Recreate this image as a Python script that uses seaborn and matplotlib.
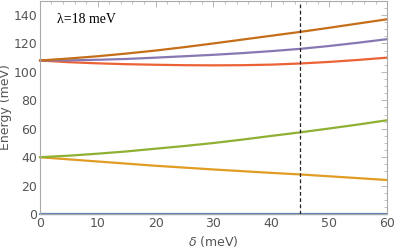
import pandas as pd
import matplotlib.pyplot as plt
import seaborn as sns
from matplotlib.ticker import MultipleLocator

sns.set_style("white")

# detuning delta (meV) and energy branches (meV)
delta = [0, 5, 10, 15, 20, 25, 30, 35, 40, 45, 50, 55, 60]
ground = [0, 0, 0, 0, 0, 0, 0, 0, 0, 0, 0, 0, 0]
lower1 = [40, 38.5, 37, 35.5, 34, 32.7, 31.4, 30.2, 29, 27.9, 26.6, 25.3, 24]
lower2 = [40, 41.1, 42.5, 44.1, 46, 47.9, 50, 52.4, 55, 57.5, 60.2, 63, 66]
upper1 = [108, 106.8, 106, 105.4, 105, 104.7, 104.6, 104.7, 105.1, 105.9, 107, 108.4, 110]
upper2 = [108, 108.1, 108.5, 109.1, 110, 111, 112, 113.2, 114.6, 116.2, 118.2, 120.5, 123]
upper3 = [108, 109.4, 111, 112.9, 115, 117.4, 120, 122.7, 125.4, 128.1, 131, 134, 137]

names = ["ground", "lower1", "lower2", "upper1", "upper2", "upper3"]
series = [ground, lower1, lower2, upper1, upper2, upper3]
colors = ["#5E81B5", "#E19C24", "#8FB032", "#EB6235", "#8778B3", "#C56E1A"]

rows = []
for name, vals in zip(names, series):
    for d, e in zip(delta, vals):
        rows.append({"delta": d, "energy": e, "branch": name})
df = pd.DataFrame(rows)

fig = plt.figure(figsize=(3.95, 2.49), dpi=100)
ax = fig.add_axes([0.101, 0.14, 0.879, 0.857])

sns.lineplot(data=df, x="delta", y="energy", hue="branch", palette=colors,
             linewidth=1.6, legend=False, ax=ax, clip_on=False)
ax.axvline(45, color="#222222", linestyle=(0, (3, 2)), linewidth=0.9)

ax.set_xlim(0, 60)
ax.set_ylim(0, 150)
ax.xaxis.set_major_locator(MultipleLocator(10))
ax.xaxis.set_minor_locator(MultipleLocator(2))
ax.yaxis.set_major_locator(MultipleLocator(20))
ax.yaxis.set_minor_locator(MultipleLocator(5))
ax.tick_params(which="both", direction="in", top=True, right=True,
               color="#aaaaaa", labelcolor="#555555", labelsize=9, pad=2)
ax.tick_params(which="major", length=4, width=0.6)
ax.tick_params(which="minor", length=2, width=0.5)
for s in ax.spines.values():
    s.set_color("#aaaaaa")
    s.set_linewidth(0.8)

ax.set_xlabel(r"$\delta$ (meV)", color="#555555", fontsize=9)
ax.set_ylabel("Energy (meV)", color="#555555", fontsize=9)
ax.xaxis.set_label_coords(0.5, -0.095)
ax.yaxis.set_label_coords(-0.08, 0.5)
ax.text(3, 136.5, "λ=18 meV", family="Liberation Serif", fontsize=10,
        ha="left", va="center", color="black")

fig.savefig("out.png", dpi=100)
